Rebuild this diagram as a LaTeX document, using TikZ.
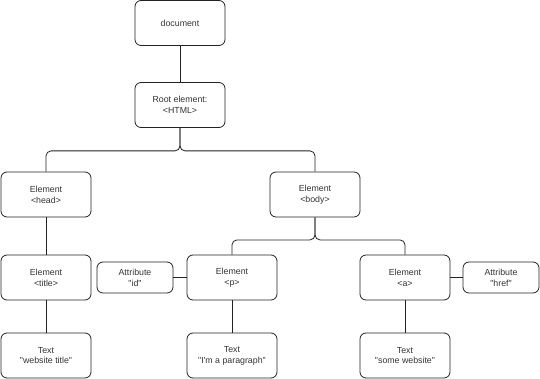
\documentclass[tikz,border=0pt]{standalone}
\usepackage{fontspec}
\newfontfamily\diagfont{Liberation Sans}
\usetikzlibrary{positioning}
\definecolor{txtgray}{HTML}{333333}
\definecolor{linegray}{HTML}{222222}

\begin{document}
\begin{tikzpicture}[x=1pt, y=-1pt, line width=0.8pt,
    font=\diagfont\fontsize{8.8}{10.8}\selectfont,
    elem/.style={draw=linegray, rounded corners=6pt, minimum width=90pt, minimum height=45pt,
                 inner sep=1pt, align=center, text=txtgray},
    attr/.style={elem, minimum width=76pt, minimum height=31pt},
    link/.style={draw=linegray, rounded corners=5pt}]

    \useasboundingbox (0,0) rectangle (540,379);

    \node[elem] (doc)  at (180,23)    {document};
    \node[elem] (root) at (180,105)   {Root element:\\<HTML>};

    \node[elem] (head) at (46,194.5)  {Element\\<head>};
    \node[elem] (body) at (315,194.5) {Element\\<body>};

    \node[elem] (title) at (46,277.5)  {Element\\<title>};
    \node[attr] (id)    at (135,277.5) {Attribute\\"id"};
    \node[elem] (p)     at (232,277.5) {Element\\<p>};
    \node[elem] (a)     at (405,277.5) {Element\\<a>};
    \node[attr] (href)  at (501,277.5) {Attribute\\"href"};

    \node[elem] (ttitle) at (46,355.5)  {Text\\"website title"};
    \node[elem] (tp)     at (232,355.5) {Text\\"I'm a paragraph"};
    \node[elem] (ta)     at (405,355.5) {Text\\"some website"};

    \foreach \a/\b in {doc/root, head/title, title/ttitle, p/tp, a/ta}
        \draw[link] (\a.south) -- (\b.north);
    \foreach \a/\b in {id/p, a/href}
        \draw[link] (\a.east) -- (\b.west);

    % orthogonal branches
    \foreach \b in {head, body}
        \draw[link] (root.south) -- ++(0,23) -| (\b.north);
    \foreach \b in {p, a}
        \draw[link] (body.south) -- ++(0,22.5) -| (\b.north);
\end{tikzpicture}
\end{document}
